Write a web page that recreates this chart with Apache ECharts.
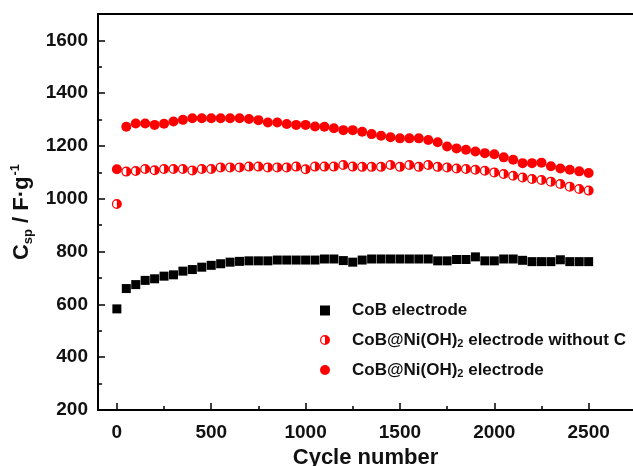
<!DOCTYPE html>
<html>
<head>
<meta charset="utf-8">
<script src="https://cdn.jsdelivr.net/npm/echarts@6/dist/echarts.min.js"></script>
<style>html,body{margin:0;padding:0;background:#fff;}#chart{width:633px;height:466px;}</style>
</head>
<body>
<div id="chart"></div>
<script>
const cycles = [0,50,100,150,200,250,300,350,400,450,500,550,600,650,700,750,800,850,900,950,1000,1050,1100,1150,1200,1250,1300,1350,1400,1450,1500,1550,1600,1650,1700,1750,1800,1850,1900,1950,2000,2050,2100,2150,2200,2250,2300,2350,2400,2450,2500];
const cobElectrode = [583,660,675,691,697,707,712,726,732,741,748,754,760,763,765,765,765,768,768,768,768,768,772,772,766,760,768,772,772,772,772,772,772,772,765,765,770,770,780,765,765,772,772,767,762,762,762,769,762,762,762];
const withoutC = [980,1103,1105,1113,1108,1113,1113,1113,1107,1113,1113,1119,1119,1119,1122,1122,1119,1119,1119,1122,1112,1122,1122,1122,1128,1122,1121,1121,1121,1128,1121,1128,1121,1128,1121,1119,1115,1113,1110,1106,1100,1094,1087,1081,1075,1071,1065,1056,1046,1037,1031];
const withC = [1112,1273,1285,1285,1280,1284,1293,1299,1305,1305,1305,1305,1305,1305,1302,1298,1289,1289,1283,1280,1280,1274,1273,1267,1260,1260,1254,1245,1239,1233,1229,1229,1229,1223,1214,1198,1191,1186,1179,1173,1169,1157,1148,1135,1135,1137,1123,1115,1110,1104,1098];
const seriesNames = ['CoB electrode', 'CoB@Ni(OH)2 electrode without C', 'CoB@Ni(OH)2 electrode'];
const xTicks = [0,500,1000,1500,2000,2500];
const xMinorTicks = [250,750,1250,1750,2250];
const yTicks = [200,400,600,800,1000,1200,1400,1600];
const yMinorTicks = [300,500,700,900,1100,1300,1500];

const FONT = '"Liberation Sans", Arial, sans-serif';
const halfCircle = 'path://M10,0A10,10,0,0,1,10,20ZM10,0A10,10,0,0,0,10,20L10,17.5A7.5,7.5,0,0,1,10,2.5Z';

function pairs(ys){ return cycles.map((c,i)=>[c, ys[i]]); }
const plain = v => String(v);

const chart = echarts.init(document.getElementById('chart'), null, {renderer:'canvas'});
const baseAxisX = {
  type:'value', min:-100, max:2735, gridIndex:0,
  splitLine:{show:false}
};
const baseAxisY = {
  type:'value', min:200, max:1700, gridIndex:0,
  splitLine:{show:false}
};
const option = {
  backgroundColor:'#fff',
  animation:false,
  grid: {left: 98, top: 14, right: 0, height: 396, show:false, containLabel:false, outerBoundsMode:'none'},
  legend: {
    orient:'vertical', left: 315, top: 297, itemGap: 12,
    itemWidth: 10, itemHeight: 10,
    data: [
      {name: seriesNames[0], icon:'rect'},
      {name: seriesNames[1], icon: halfCircle},
      {name: seriesNames[2], icon:'circle'}
    ],
    formatter: function(n){
      if (n === seriesNames[0]) return '{a|CoB electrode}';
      if (n === seriesNames[1]) return '{a|CoB@Ni(OH)}{s|2}{a| electrode without C}';
      return '{a|CoB@Ni(OH)}{s|2}{a| electrode}';
    },
    textStyle: {
      padding:[0,0,0,17],
      rich: {
        a: {fontFamily:FONT, fontWeight:'bold', fontSize:17, color:'#111', lineHeight:18, verticalAlign:'middle'},
        s: {fontFamily:FONT, fontWeight:'bold', fontSize:11, color:'#111', lineHeight:11, verticalAlign:'bottom', padding:[7,0,0,0]}
      }
    }
  },
  xAxis: [
    Object.assign({}, baseAxisX, {
      position:'bottom',
      name:'Cycle number', nameLocation:'middle', nameGap:31,
      nameTextStyle:{fontFamily:FONT, fontWeight:'bold', fontSize:22, color:'#111'},
      axisLine:{show:true, onZero:false, lineStyle:{color:'#000', width:2}},
      axisTick:{show:true, inside:true, length:7, lineStyle:{color:'#000', width:1.5}, customValues: xTicks},
      axisLabel:{fontFamily:FONT, fontWeight:'bold', fontSize:19, color:'#111', margin:13, customValues: xTicks, formatter: plain}
    }),
    Object.assign({}, baseAxisX, {
      position:'bottom',
      axisLine:{show:false, onZero:false},
      axisTick:{show:true, inside:true, length:4, lineStyle:{color:'#000', width:1.5}, customValues: xMinorTicks},
      axisLabel:{show:false}
    }),
    Object.assign({}, baseAxisX, {
      position:'top',
      axisLine:{show:true, onZero:false, lineStyle:{color:'#000', width:2}},
      axisTick:{show:false},
      axisLabel:{show:false}
    })
  ],
  yAxis: [
    Object.assign({}, baseAxisY, {
      position:'left',
      name:'{c|C}{sub|sp}{c| / F·g}{sup|-1}', nameLocation:'middle', nameGap:54, nameRotate:90,
      nameTextStyle:{
        rich:{
          c:{fontFamily:FONT, fontWeight:'bold', fontSize:22, color:'#111', lineHeight:26, verticalAlign:'middle'},
          sub:{fontFamily:FONT, fontWeight:'bold', fontSize:13, color:'#111', lineHeight:13, verticalAlign:'bottom', padding:[8,0,0,0]},
          sup:{fontFamily:FONT, fontWeight:'bold', fontSize:13, color:'#111', lineHeight:13, verticalAlign:'top', padding:[0,0,8,1]}
        }
      },
      axisLine:{show:true, onZero:false, lineStyle:{color:'#000', width:2}},
      axisTick:{show:true, inside:true, length:7, lineStyle:{color:'#000', width:1.5}, customValues: yTicks},
      axisLabel:{fontFamily:FONT, fontWeight:'bold', fontSize:19, color:'#111', margin:10, customValues: yTicks, formatter: plain}
    }),
    Object.assign({}, baseAxisY, {
      position:'left',
      axisLine:{show:false, onZero:false},
      axisTick:{show:true, inside:true, length:4, lineStyle:{color:'#000', width:1.5}, customValues: yMinorTicks},
      axisLabel:{show:false}
    })
  ],
  series: [
    {name: seriesNames[0], type:'scatter', xAxisIndex:0, yAxisIndex:0, symbol:'rect', symbolSize:9,
     itemStyle:{color:'#000', opacity:1}, data: pairs(cobElectrode)},
    {name: seriesNames[1], type:'scatter', xAxisIndex:0, yAxisIndex:0, symbol: halfCircle, symbolSize:10,
     itemStyle:{color:'#f00', opacity:1}, data: pairs(withoutC)},
    {name: seriesNames[2], type:'scatter', xAxisIndex:0, yAxisIndex:0, symbol:'circle', symbolSize:10,
     itemStyle:{color:'#f00', opacity:1}, data: pairs(withC)}
  ]
};
chart.setOption(option);
</script>
</body>
</html>
